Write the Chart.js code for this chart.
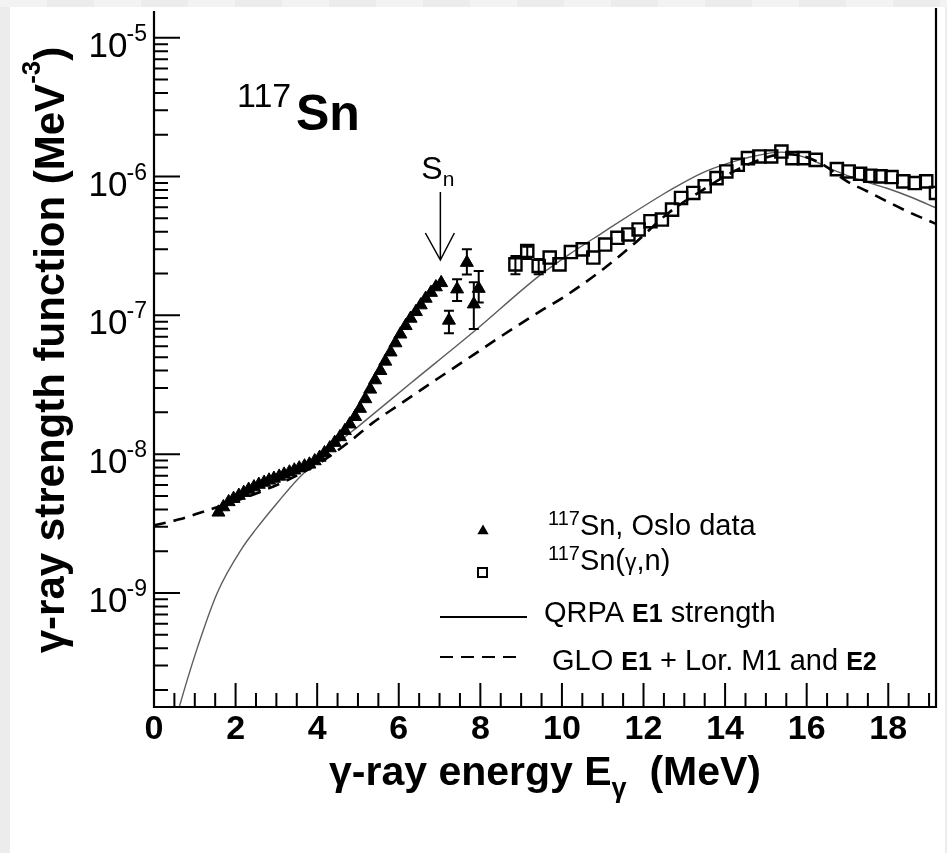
<!DOCTYPE html>
<html><head><meta charset="utf-8">
<script src="https://cdn.jsdelivr.net/npm/chart.js@4.4.1/dist/chart.umd.min.js"></script>
<style>
html,body{margin:0;padding:0;background:#ececec;overflow:hidden}
#wrap{position:absolute;left:0;top:0;width:947px;height:853px}
</style></head>
<body><div id="wrap"><canvas id="c" width="947" height="853"></canvas></div>
<script>
// ---------------- data ----------------
// 117Sn Oslo data: gamma energy (MeV) and strength (MeV^-3)
const osloE = [1.58,1.70,1.83,1.95,2.08,2.20,2.32,2.45,2.57,2.70,2.82,2.94,3.07,3.19,3.32,3.44,3.56,3.69,3.81,3.94,
  4.06,4.18,4.31,4.43,4.56,4.68,4.80,4.93,5.05,5.18,5.30,5.42,5.55,5.67,5.80,5.92,6.04,6.17,6.29,6.42,
  6.54,6.66,6.79,6.91,7.04, 7.23,7.43,7.67,7.84,7.96];
const osloS = [3.81e-9,4.16e-9,4.53e-9,4.78e-9,5.03e-9,5.28e-9,5.56e-9,5.79e-9,6.04e-9,6.25e-9,6.48e-9,6.68e-9,6.91e-9,7.15e-9,7.41e-9,7.66e-9,7.93e-9,8.19e-9,8.45e-9,8.93e-9,
  9.46e-9,1.021e-8,1.107e-8,1.211e-8,1.331e-8,1.473e-8,1.644e-8,1.86e-8,2.13e-8,2.50e-8,2.93e-8,3.42e-8,3.99e-8,4.66e-8,5.43e-8,6.32e-8,7.31e-8,8.41e-8,9.50e-8,1.061e-7,
  1.186e-7,1.324e-7,1.459e-7,1.60e-7,1.715e-7, 9.2e-8,1.545e-7,2.40e-7,1.205e-7,1.56e-7];
// error bars of the Oslo points above Sn (index -> [low, high])
const osloErrIdx  = [45,46,47,48,49];
const osloErrLow  = [7.43e-8,1.27e-7,1.97e-7,7.98e-8,1.24e-7];
const osloErrHigh = [1.08e-7,1.82e-7,2.99e-7,1.73e-7,2.09e-7];

// 117Sn(gamma,n) data
const gnE = [8.86,9.15,9.43,9.70,9.94,10.22,10.51,10.77,11.06,11.36,11.63,11.88,12.17,12.45,12.70,12.92,13.22,13.50,13.79,14.03,
  14.31,14.56,14.84,15.13,15.38,15.65,15.93,16.22,16.74,17.03,17.31,17.56,17.81,18.08,18.37,18.65,18.93,19.17];
const gnS = [2.33e-7,2.91e-7,2.27e-7,2.61e-7,2.33e-7,2.86e-7,2.99e-7,2.61e-7,3.24e-7,3.62e-7,3.83e-7,4.16e-7,4.77e-7,4.90e-7,5.78e-7,7.01e-7,7.62e-7,8.51e-7,9.75e-7,1.089e-6,
  1.216e-6,1.358e-6,1.396e-6,1.396e-6,1.516e-6,1.358e-6,1.358e-6,1.319e-6,1.132e-6,1.089e-6,1.047e-6,1.014e-6,1.003e-6,9.92e-7,9.24e-7,8.98e-7,9.24e-7,7.62e-7];
const gnErrIdx  = [0,1,2];
const gnErrLow  = [1.98e-7,2.55e-7,1.98e-7];
const gnErrHigh = [2.68e-7,3.12e-7,2.55e-7];

// QRPA E1 strength (solid curve)
const qrpaE = [0.55,0.62,1.04,1.55,2.16,2.50,3.05,3.54,4.03,4.52,5.07,6.29,7.82,9.45,10.17,11.00,11.80,12.46,12.78,
  13.43,14.06,14.72,15.37,16.01,16.66,17.31,17.95,18.61,19.17];
const qrpaS = [1.27e-10,1.51e-10,3.84e-10,1.00e-9,2.10e-9,2.88e-9,4.56e-9,6.68e-9,9.12e-9,1.216e-8,1.64e-8,3.24e-8,7.55e-8,1.935e-7,2.74e-7,3.95e-7,5.6e-7,7.4e-7,8.4e-7,
  1.06e-6,1.245e-6,1.406e-6,1.50e-6,1.358e-6,1.114e-6,9.44e-7,8.27e-7,7.01e-7,5.95e-7];

// GLO E1 + Lor. M1 and E2 (dashed curve)
const gloE = [0,0.62,1.23,1.84,2.57,3.30,4.03,4.76,5.36,5.97,6.94,7.82,8.40,9.54,10.03,11.00,11.80,12.61,13.26,14.23,
  14.96,15.45,15.93,16.42,16.98,17.47,17.95,18.44,19.17];
const gloS = [3.07e-9,3.39e-9,3.87e-9,4.42e-9,5.30e-9,6.56e-9,8.55e-9,1.21e-8,1.68e-8,2.23e-8,3.48e-8,5.17e-8,6.73e-8,1.104e-7,1.346e-7,2.14e-7,3.34e-7,5.47e-7,7.37e-7,1.095e-6,
  1.358e-6,1.45e-6,1.40e-6,1.21e-6,9.28e-7,7.87e-7,6.67e-7,5.66e-7,4.56e-7];

// axes
const xMin = 0, xMax = 19.17;
const yMin = 1.507e-10, yMax = 1.56e-5;
const xTickLabels = [0,2,4,6,8,10,12,14,16,18];
const yTickExponents = [-9,-8,-7,-6,-5];
const neutronSeparation = 7.02; // S_n arrow position (MeV)

const legendLabels = ['Sn, Oslo data','Sn(γ,n)','QRPA E1 strength','GLO E1 + Lor. M1 and E2'];

// ---------------- drawing ----------------
const FONT = "'Liberation Sans', Arial, Helvetica, sans-serif";
const F = (sz, w) => (w || 'normal') + ' ' + sz + 'px ' + FONT;
const pts = (E, S) => E.map((e, i) => ({x: e, y: S[i]}));

function segWidth(ctx, segs){ let w = 0; for (const s of segs){ ctx.font = s.f; w += ctx.measureText(s.t).width; } return w; }
function drawSegs(ctx, x, y, segs){ ctx.textAlign = 'left'; ctx.textBaseline = 'alphabetic';
  for (const s of segs){ ctx.font = s.f; ctx.fillText(s.t, x, y + (s.dy || 0)); x += ctx.measureText(s.t).width; } return x; }

function tri(ctx, x, y, r){ ctx.beginPath(); ctx.moveTo(x, y - r); ctx.lineTo(x + r*0.866, y + r/2); ctx.lineTo(x - r*0.866, y + r/2); ctx.closePath(); ctx.fill(); }

const decor = {
  id: 'decor',
  beforeDraw(chart){
    const ctx = chart.ctx;
    ctx.save();
    ctx.fillStyle = '#ececec'; ctx.fillRect(0, 0, chart.width, chart.height);
    ctx.fillStyle = '#f3f3f3';
    for (let x = 0; x < chart.width; x += 94) ctx.fillRect(x, 0, 47, 7);
    ctx.fillStyle = '#ffffff'; ctx.fillRect(10, 7, 935, 846);
    ctx.restore();
  },
  afterDatasetsDraw(chart){
    const ctx = chart.ctx, xs = chart.scales.x, ys = chart.scales.y, a = chart.chartArea;
    ctx.save();
    ctx.strokeStyle = '#000'; ctx.fillStyle = '#000';
    // error bars
    const bar = (E, lo, hi) => {
      const x = xs.getPixelForValue(E), y1 = ys.getPixelForValue(lo), y2 = ys.getPixelForValue(hi);
      ctx.beginPath(); ctx.lineWidth = 2;
      ctx.moveTo(x, y1); ctx.lineTo(x, y2);
      ctx.moveTo(x - 5, y1); ctx.lineTo(x + 5, y1);
      ctx.moveTo(x - 5, y2); ctx.lineTo(x + 5, y2);
      ctx.stroke();
    };
    osloErrIdx.forEach((k, i) => bar(osloE[k], osloErrLow[i], osloErrHigh[i]));
    gnErrIdx.forEach((k, i) => bar(gnE[k], gnErrLow[i], gnErrHigh[i]));

    // axis frame
    ctx.lineWidth = 2.2;
    ctx.beginPath();
    ctx.moveTo(a.left, a.top); ctx.lineTo(a.left, a.bottom); ctx.lineTo(a.right, a.bottom); ctx.lineTo(a.right, a.top - 3);
    ctx.stroke();
    // x ticks (inward)
    ctx.lineWidth = 2;
    ctx.beginPath();
    for (let v = 0; v <= xMax + 1e-9; v += 0.5){
      const x = xs.getPixelForValue(v);
      const major = Math.abs(v / 2 - Math.round(v / 2)) < 1e-9;
      ctx.moveTo(x, a.bottom); ctx.lineTo(x, a.bottom - (major ? 24 : 14));
    }
    // y ticks (inward)
    for (let e = -11; e <= -5; e++){
      for (let m = 1; m <= 9; m++){
        const v = m * Math.pow(10, e);
        if (v < yMin || v > yMax) continue;
        const y = ys.getPixelForValue(v);
        ctx.moveTo(a.left, y); ctx.lineTo(a.left + (m === 1 ? 26 : 14), y);
      }
    }
    ctx.stroke();

    // y tick labels 10^n
    for (const e of yTickExponents){
      const y = ys.getPixelForValue(Math.pow(10, e));
      ctx.font = F(23); const sup = String(e); const sw = ctx.measureText(sup).width;
      const xs0 = 147 - sw;
      ctx.textAlign = 'left'; ctx.textBaseline = 'alphabetic';
      ctx.fillText(sup, xs0, y + 3);
      ctx.font = F(35); ctx.textAlign = 'right';
      ctx.fillText('10', xs0 + 1, y + 19);
    }

    // axis titles
    const xt = [{t:'γ-ray energy E', f:F(41,'bold')}, {t:'γ', f:F(27,'bold'), dy:12}, {t:'  (MeV)', f:F(41,'bold')}];
    const xw = segWidth(ctx, xt);
    drawSegs(ctx, (a.left + a.right)/2 - xw/2, 785, xt);

    const yt = [{t:'γ-ray strength function (MeV', f:F(42,'bold')}, {t:'-3', f:F(26,'bold'), dy:-24}, {t:')', f:F(42,'bold')}];
    const yw = segWidth(ctx, yt);
    ctx.save(); ctx.translate(64, 350); ctx.rotate(-Math.PI/2);
    drawSegs(ctx, -yw/2, 0, yt);
    ctx.restore();

    // nucleus label
    drawSegs(ctx, 237, 107, [{t:'117', f:F(34)}]);
    drawSegs(ctx, 296, 130, [{t:'Sn', f:F(50,'bold')}]);

    // S_n arrow
    const ax = xs.getPixelForValue(neutronSeparation);
    drawSegs(ctx, ax - 19, 179, [{t:'S', f:F(32)}, {t:'n', f:F(21), dy:7}]);
    ctx.lineWidth = 1.5; ctx.beginPath();
    ctx.moveTo(ax, 192); ctx.lineTo(ax, 260);
    ctx.moveTo(ax - 15, 233); ctx.lineTo(ax, 260); ctx.lineTo(ax + 14, 233);
    ctx.stroke();

    // legend
    tri(ctx, 483, 531, 6.5);
    drawSegs(ctx, 548, 535, [{t:'117', f:F(20), dy:-10}, {t:legendLabels[0], f:F(29)}]);
    ctx.lineWidth = 2; ctx.strokeRect(478, 568, 9, 9);
    drawSegs(ctx, 548, 570, [{t:'117', f:F(20), dy:-10}, {t:'Sn(', f:F(29)}, {t:'γ', f:F(23)}, {t:',n)', f:F(29)}]);
    ctx.lineWidth = 2; ctx.beginPath(); ctx.moveTo(440, 617); ctx.lineTo(527, 617); ctx.stroke();
    drawSegs(ctx, 544, 622, [{t:'QRPA ', f:F(29)}, {t:'E1', f:F(25,'bold')}, {t:' strength', f:F(29)}]);
    ctx.setLineDash([13, 8]); ctx.beginPath(); ctx.moveTo(440, 657); ctx.lineTo(522, 657); ctx.stroke(); ctx.setLineDash([]);
    drawSegs(ctx, 552, 670, [{t:'GLO ', f:F(29)}, {t:'E1', f:F(25,'bold')}, {t:' + Lor. M1 and ', f:F(29)}, {t:'E2', f:F(25,'bold')}]);
    ctx.restore();
  }
};

new Chart(document.getElementById('c'), {
  type: 'line',
  data: {
    datasets: [
      {label: '117Sn, Oslo data', data: pts(osloE, osloS), showLine: false, pointStyle: 'triangle', pointRadius: 7.5,
       pointBackgroundColor: '#000', pointBorderColor: '#000', pointBorderWidth: 1, order: 0},
      {label: '117Sn(γ,n)', data: pts(gnE, gnS), showLine: false, pointStyle: 'rect', pointRadius: 8.6,
       pointBackgroundColor: 'rgba(0,0,0,0)', pointBorderColor: '#000', pointBorderWidth: 2.4, order: 0},
      {label: 'QRPA E1 strength', data: pts(qrpaE, qrpaS), pointRadius: 0, borderColor: '#5c5c5c', borderWidth: 1.4,
       cubicInterpolationMode: 'monotone', fill: false, order: 2},
      {label: 'GLO E1 + Lor. M1 and E2', data: pts(gloE, gloS), pointRadius: 0, borderColor: '#000', borderWidth: 2.6,
       borderDash: [12, 8], cubicInterpolationMode: 'monotone', fill: false, order: 1}
    ]
  },
  options: {
    responsive: false, animation: false, devicePixelRatio: 1,
    layout: {padding: {left: 0, top: 7, right: 4, bottom: 0}},
    plugins: {legend: {display: false}, tooltip: {enabled: false}},
    scales: {
      x: {type: 'linear', min: xMin, max: xMax,
          grid: {display: false, drawTicks: false}, border: {display: false},
          afterBuildTicks: s => { s.ticks = xTickLabels.map(v => ({value: v})); },
          afterFit: s => { s.height = 146; },
          ticks: {autoSkip: false, maxRotation: 0, padding: 2, color: '#000',
                  font: {family: FONT, size: 34, weight: 'bold', lineHeight: 1.2},
                  callback: v => String(v)}},
      y: {type: 'logarithmic', min: yMin, max: yMax,
          grid: {display: false, drawTicks: false}, border: {display: false},
          afterFit: s => { s.width = 154; },
          ticks: {display: false}}
    }
  },
  plugins: [decor]
});
</script>
</body></html>
